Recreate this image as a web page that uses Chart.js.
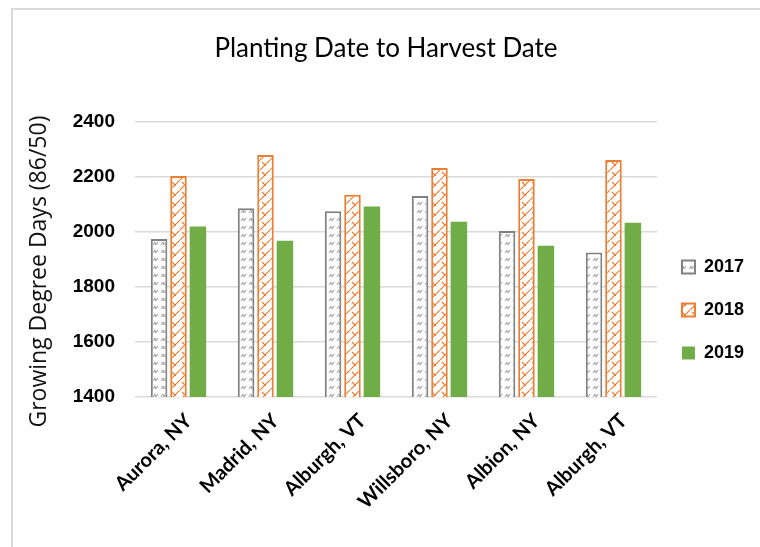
<!DOCTYPE html>
<html>
<head>
<meta charset="utf-8">
<script src="https://cdn.jsdelivr.net/npm/chart.js@4.4.1/dist/chart.umd.min.js"></script>
<style>
  html, body { margin: 0; padding: 0; background: #fff; }
  #wrap { position: relative; width: 760px; height: 547px; }
  #frame { position: absolute; left: 11px; top: 8px; right: -5px; bottom: -5px;
           border-top: 2px solid #d9d9d9; border-left: 2px solid #d9d9d9; }
  canvas { position: absolute; left: 0; top: 0; }
</style>
</head>
<body>
<div id="wrap">
  <div id="frame"></div>
  <canvas id="gddChart" width="760" height="547"></canvas>
</div>
<script>
// Chart data
const sites = ['Aurora, NY', 'Madrid, NY', 'Alburgh, VT', 'Willsboro, NY', 'Albion, NY', 'Alburgh, VT'];
const gdd2017 = [1975, 2087, 2076, 2131, 2004, 1926];
const gdd2018 = [2204, 2281, 2136, 2233, 2193, 2262];
const gdd2019 = [2020, 1969, 2093, 2038, 1950, 2034];
const yTicks = [1400, 1600, 1800, 2000, 2200, 2400];

// Hatch fills like the Excel pattern fills
function makePattern(size, draw) {
  const c = document.createElement('canvas');
  c.width = size; c.height = size;
  const g = c.getContext('2d');
  g.fillStyle = '#ffffff';
  g.fillRect(0, 0, size, size);
  draw(g);
  return document.createElement('canvas').getContext('2d').createPattern(c, 'repeat');
}

const grayPattern = makePattern(8, g => {
  g.strokeStyle = '#9a9a9a';
  g.lineWidth = 1;
  g.beginPath();
  g.moveTo(1, 5); g.lineTo(3, 2); g.lineTo(4, 5); g.lineTo(6, 2);
  g.stroke();
});

const orangePattern = makePattern(10, g => {
  g.strokeStyle = '#ED7D31';
  g.lineWidth = 1.2;
  g.beginPath();
  g.moveTo(0, 10); g.lineTo(10, 0);
  g.moveTo(2, 2); g.lineTo(5, 5);
  g.stroke();
  g.fillStyle = '#ED7D31';
  g.fillRect(4, 4, 2, 2);
});

const ctx = document.getElementById('gddChart').getContext('2d');
const gddChart = new Chart(ctx, {
  type: 'bar',
  data: {
    labels: sites,
    datasets: [{
      label: '2017',
      data: gdd2017,
      backgroundColor: grayPattern,
      borderColor: '#808080',
      borderWidth: 2
    }, {
      label: '2018',
      data: gdd2018,
      backgroundColor: orangePattern,
      borderColor: '#ED7D31',
      borderWidth: 2
    }, {
      label: '2019',
      data: gdd2019,
      backgroundColor: '#70AD47',
      borderColor: '#70AD47',
      borderWidth: 0
    }]
  },
  options: {
    responsive: false,
    animation: false,
    layout: { padding: { top: 8, left: 18, right: 6, bottom: 8 } },
    datasets: { bar: { categoryPercentage: 0.67, barPercentage: 0.85 } },
    scales: {
      x: {
        grid: { display: false },
        border: { display: false },
        ticks: {
          color: '#000',
          font: { family: 'Lato', size: 20, weight: 'bold' },
          minRotation: 45,
          maxRotation: 45,
          padding: 4,
          labelOffset: 10
        },
        afterFit: scale => { scale.height = 142; }
      },
      y: {
        min: 1400,
        max: 2400,
        afterBuildTicks: scale => { scale.ticks = yTicks.map(v => ({ value: v })); },
        grid: { color: '#d9d9d9', lineWidth: 1.5, drawTicks: false },
        border: { display: false },
        ticks: {
          color: '#000',
          font: { family: 'Liberation Sans', size: 19, weight: 'bold' },
          padding: 20,
          callback: v => String(v)
        },
        title: {
          display: true,
          text: 'Growing Degree Days (86/50)    ',
          color: '#111',
          font: { family: 'Open Sans', size: 23 },
          padding: { top: 8, bottom: 0 }
        },
        afterFit: scale => { scale.width = 117; }
      }
    },
    plugins: {
      title: {
        display: true,
        text: 'Planting Date to Harvest Date',
        color: '#000',
        font: { family: 'Lato', size: 26, weight: 'normal' },
        padding: { top: 25, bottom: 58 }
      },
      legend: {
        position: 'right',
        align: 'start',
        title: {
          display: true,
          text: ' ',
          font: { size: 10 },
          padding: { top: 0, bottom: 213 }
        },
        labels: {
          color: '#000',
          font: { family: 'Liberation Sans', size: 18, weight: 'bold' },
          boxWidth: 13,
          boxHeight: 13,
          padding: 25
        }
      },
      tooltip: { enabled: false }
    }
  }
});
</script>
</body>
</html>
